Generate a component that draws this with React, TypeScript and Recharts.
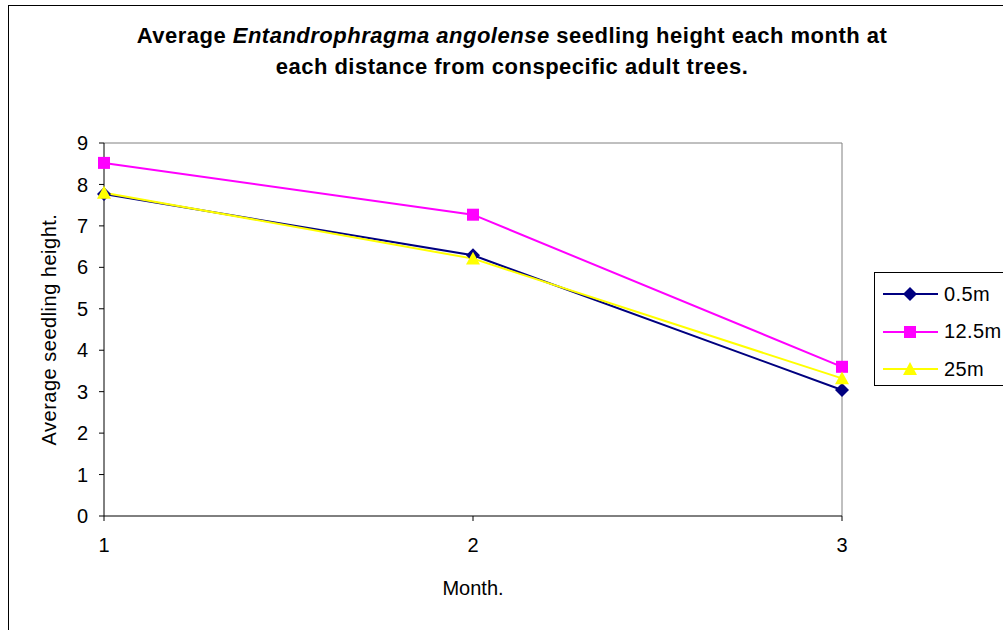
import React from "react";
import { LineChart, Line, XAxis, YAxis, ReferenceLine } from "recharts";

const months = [1, 2, 3];
const height05 = [7.77, 6.29, 3.04];
const height125 = [8.52, 7.27, 3.6];
const height25 = [7.8, 6.21, 3.32];
const yTicks = [0, 1, 2, 3, 4, 5, 6, 7, 8, 9];

const data = months.map((m, i) => ({
  month: m,
  d05: height05[i],
  d125: height125[i],
  d25: height25[i],
}));

const FONT = "'Liberation Sans', Arial, sans-serif";

const series = [
  { key: "d05", name: "0.5m", color: "#000080", shape: "diamond" },
  { key: "d125", name: "12.5m", color: "#FF00FF", shape: "square" },
  { key: "d25", name: "25m", color: "#FFFF00", shape: "triangle" },
];

function Marker({ cx, cy, shape, color }: any) {
  if (cx == null || cy == null) return null;
  if (shape === "diamond") {
    const r = 7;
    return (
      <path
        d={`M${cx},${cy - r}L${cx + r},${cy}L${cx},${cy + r}L${cx - r},${cy}Z`}
        fill={color}
      />
    );
  }
  if (shape === "square") {
    const r = 6;
    return <rect x={cx - r} y={cy - r} width={r * 2} height={r * 2} fill={color} />;
  }
  const r = 7;
  return (
    <path
      d={`M${cx},${cy - r}L${cx + r},${cy + r * 0.85}L${cx - r},${cy + r * 0.85}Z`}
      fill={color}
    />
  );
}

function LegendBox() {
  return (
    <div
      style={{
        position: "absolute",
        left: 874,
        top: 272,
        width: 160,
        height: 112,
        border: "1px solid #000",
        background: "#fff",
        fontFamily: FONT,
        fontSize: 20,
        letterSpacing: 0.4,
      }}
    >
      {series.map((s, i) => (
        <div
          key={s.key}
          style={{
            position: "absolute",
            left: 8,
            top: 6 + i * 37.5,
            display: "flex",
            alignItems: "center",
            height: 30,
          }}
        >
          <svg width={56} height={20}>
            <line x1={0} y1={10} x2={55} y2={10} stroke={s.color} strokeWidth={2} />
            <Marker cx={27} cy={10} shape={s.shape} color={s.color} />
          </svg>
          <span style={{ marginLeft: 5 }}>{s.name}</span>
        </div>
      ))}
    </div>
  );
}

export default function App() {
  return (
    <div
      style={{
        position: "fixed",
        left: 0,
        top: 0,
        width: 1003,
        height: 630,
        overflow: "hidden",
        background: "#fff",
      }}
    >
      <div
        style={{
          position: "absolute",
          left: 8,
          top: 5,
          width: 1040,
          height: 660,
          border: "1px solid #000",
        }}
      />
      <div
        style={{
          position: "absolute",
          left: 0,
          top: 20,
          width: 1024,
          textAlign: "center",
          fontFamily: FONT,
          fontWeight: "bold",
          fontSize: 22,
          lineHeight: "31px",
          letterSpacing: 0.5,
        }}
      >
        Average <i>Entandrophragma angolense</i> seedling height each month at
        <br />
        each distance from conspecific adult trees.
      </div>
      <div style={{ position: "absolute", left: 0, top: 0 }}>
        <LineChart
          width={1003}
          height={630}
          data={data}
          margin={{ top: 143, right: 161, bottom: 84, left: 44 }}
        >
          <XAxis
            dataKey="month"
            type="number"
            domain={[1, 3]}
            ticks={months}
            stroke="#000"
            tickSize={5}
            tickMargin={17}
            height={30}
            tick={{ fill: "#000", fontSize: 20, fontFamily: FONT }}
            label={{
              content: ({ viewBox }: any) => (
                <text
                  x={viewBox.x + viewBox.width / 2}
                  y={viewBox.y + 79}
                  textAnchor="middle"
                  fontSize={20}
                  fontFamily={FONT}
                  fill="#000"
                >
                  Month.
                </text>
              ),
            }}
          />
          <YAxis
            type="number"
            domain={[0, 9]}
            ticks={yTicks}
            interval={0}
            stroke="#000"
            tickSize={5}
            tickMargin={11}
            width={60}
            tick={{ fill: "#000", fontSize: 20, fontFamily: FONT }}
            label={{
              content: ({ viewBox }: any) => {
                const x = viewBox.x + 12;
                const y = viewBox.y + viewBox.height / 2;
                return (
                  <text
                    x={x}
                    y={y}
                    transform={`rotate(-90 ${x} ${y})`}
                    textAnchor="middle"
                    fontSize={20}
                    letterSpacing={0.5}
                    fontFamily={FONT}
                    fill="#000"
                  >
                    Average seedling height.
                  </text>
                );
              },
            }}
          />
          <ReferenceLine y={9} stroke="#808080" />
          <ReferenceLine x={3} stroke="#808080" />
          {series.map((s) => (
            <Line
              key={s.key}
              dataKey={s.key}
              name={s.name}
              stroke={s.color}
              strokeWidth={2}
              isAnimationActive={false}
              dot={(p: any) => (
                <Marker key={`${s.key}-${p.index}`} cx={p.cx} cy={p.cy} shape={s.shape} color={s.color} />
              )}
              activeDot={false}
            />
          ))}
        </LineChart>
      </div>
      <LegendBox />
    </div>
  );
}
